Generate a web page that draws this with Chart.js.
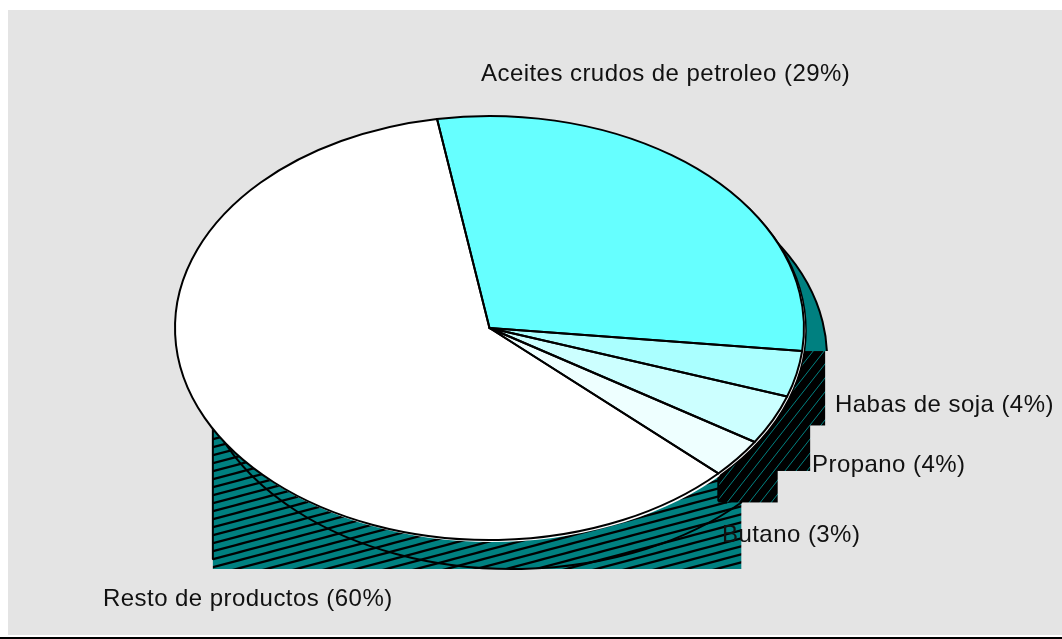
<!DOCTYPE html>
<html>

<head>
  <meta charset="utf-8">
  <script src="https://cdn.jsdelivr.net/npm/chart.js"></script>
  <style>
    body { margin: 0; background: #fff; }
    canvas { display: block; }
  </style>
</head>

<body>
  <canvas id="pieChart" width="1062" height="639"></canvas>

  <script>
    const categories = ["Aceites crudos de petroleo", "Habas de soja", "Propano", "Butano", "Resto de productos"];
    const shares = [29.4, 3.5, 3.8, 3.0, 60.3];
    const sliceColors = ["#66FFFF", "#AAFFFF", "#CCFFFF", "#EEFFFF", "#FFFFFF"];
    const labelAnchors = [[481, 81], [835, 412], [812, 472], [722, 542], [103, 606]];

    const radiusX = 314.5;
    const depth = { x: 23, y: 29 };
    // the side of the last slice is only drawn from this angle on
    const sideLimit = 151.6 * Math.PI / 180;

    function hatch(bg, fg, w, h, lineWidth) {
      const tile = document.createElement("canvas");
      tile.width = w;
      tile.height = h;
      const c = tile.getContext("2d");
      c.fillStyle = bg;
      c.fillRect(0, 0, w, h);
      c.strokeStyle = fg;
      c.lineWidth = lineWidth;
      [-h, 0, h].forEach(shift => {
        c.beginPath();
        c.moveTo(-w, h + shift + h);
        c.lineTo(2 * w, shift - h);
        c.stroke();
      });
      return c.createPattern(tile, "repeat");
    }

    function ellipsePoint(arc, angle, ox, oy) {
      return {
        x: arc.x + ox + radiusX * Math.cos(angle),
        y: arc.y + oy + arc.outerRadius * Math.sin(angle)
      };
    }

    function ellipsePath(ctx, arc, start, end, ox, oy) {
      ctx.ellipse(arc.x + ox, arc.y + oy, radiusX, arc.outerRadius, 0, start, end);
    }

    function sideBox(arc, start, end) {
      const pts = [
        ellipsePoint(arc, start, 0, 0), ellipsePoint(arc, end, 0, 0),
        ellipsePoint(arc, start, depth.x, depth.y), ellipsePoint(arc, end, depth.x, depth.y)
      ];
      if (start < Math.PI / 2 && end > Math.PI / 2) {
        pts.push(ellipsePoint(arc, Math.PI / 2, depth.x, depth.y));
      }
      const xs = pts.map(p => p.x);
      const ys = pts.map(p => p.y);
      const left = Math.min(...xs);
      const top = Math.min(...ys);
      return { left: left, top: top, w: Math.max(...xs) - left, h: Math.max(...ys) - top };
    }

    const pieSides = {
      id: "pieSides",
      beforeDatasetsDraw(chart) {
        const ctx = chart.ctx;
        const arcs = chart.getDatasetMeta(0).data;
        const last = arcs.length - 1;
        const lightHatch = hatch("#008080", "#000000", 30, 8, 2.2);
        const darkHatch = hatch("#000000", "#008080", 11, 14, 1);

        ctx.save();
        ctx.lineCap = "round";
        ctx.lineJoin = "round";

        // big slice first, the others lie on top of it
        const b = sideBox(arcs[last], arcs[last].startAngle, sideLimit);
        ctx.fillStyle = lightHatch;
        ctx.fillRect(b.left, b.top, b.w, b.h);
        ctx.strokeStyle = "#000";
        ctx.lineWidth = 2;
        ctx.beginPath();
        ctx.moveTo(b.left, b.top);
        ctx.lineTo(b.left, b.top + b.h - 10);
        ctx.stroke();
        ctx.beginPath();
        ellipsePath(ctx, arcs[last], arcs[last].startAngle, sideLimit + 0.12, depth.x, depth.y);
        ctx.stroke();

        // first slice, plain teal
        const first = arcs[0];
        const cut = ellipsePoint(first, first.endAngle, 0, 0);
        ctx.save();
        ctx.beginPath();
        ctx.rect(0, 0, chart.width, cut.y);
        ctx.clip();
        ctx.beginPath();
        ellipsePath(ctx, first, first.startAngle, first.endAngle, depth.x, depth.y);
        ctx.lineTo(cut.x, cut.y);
        ctx.closePath();
        ctx.fillStyle = "#008080";
        ctx.fill();
        ctx.beginPath();
        ellipsePath(ctx, first, first.startAngle, first.endAngle, depth.x, depth.y);
        ctx.stroke();
        ctx.restore();

        // small slices
        for (let i = 1; i < last; i++) {
          const r = sideBox(arcs[i], arcs[i].startAngle, arcs[i].endAngle);
          ctx.fillStyle = darkHatch;
          ctx.fillRect(r.left, r.top, r.w, r.h);
        }
        const p = ellipsePoint(arcs[last - 1], arcs[last - 1].endAngle, 0, 0);
        ctx.beginPath();
        ctx.moveTo(p.x, p.y);
        ctx.lineTo(p.x, p.y + depth.y - 2);
        ctx.lineTo(p.x + 8, p.y + depth.y);
        ctx.stroke();

        // thin white rim just under the top face
        ctx.beginPath();
        ellipsePath(ctx, first, 0, Math.PI * 2, 2, 2);
        ctx.fillStyle = "#fff";
        ctx.fill();
        ctx.beginPath();
        ellipsePath(ctx, first, first.startAngle + 0.5, arcs[3].endAngle, 2, 2);
        ctx.lineWidth = 1.5;
        ctx.stroke();

        ctx.restore();
      },
      // Chart.js only draws round pies, so squash it while the slices are drawn
      beforeDatasetDraw(chart, args) {
        const arc = args.meta.data[0];
        const ctx = chart.ctx;
        ctx.save();
        ctx.translate(arc.x, arc.y);
        ctx.scale(radiusX / arc.outerRadius, 1);
        ctx.translate(-arc.x, -arc.y);
      },
      afterDatasetDraw(chart) {
        chart.ctx.restore();
      },
      afterDatasetsDraw(chart) {
        const ctx = chart.ctx;
        const arcs = chart.getDatasetMeta(0).data;
        ctx.save();
        ctx.strokeStyle = "#000";
        ctx.lineWidth = 2;
        ctx.lineJoin = "round";
        arcs.forEach(arc => {
          ctx.beginPath();
          ctx.moveTo(arc.x, arc.y);
          ellipsePath(ctx, arc, arc.startAngle, arc.endAngle, 0, 0);
          ctx.closePath();
          ctx.stroke();
        });

        ctx.fillStyle = "#111";
        ctx.font = "24px 'Liberation Sans'";
        ctx.letterSpacing = "0.45px";
        ctx.textBaseline = "alphabetic";
        categories.forEach((name, i) => {
          ctx.fillText(name + " (" + Math.round(shares[i]) + "%)", labelAnchors[i][0], labelAnchors[i][1]);
        });
        ctx.restore();
      }
    };

    const background = {
      id: "background",
      beforeDraw(chart) {
        const ctx = chart.ctx;
        ctx.fillStyle = "#E4E4E4";
        ctx.fillRect(8, 10, chart.width - 8, 625);
        ctx.fillStyle = "#000";
        ctx.fillRect(0, 637, chart.width, 2);
      }
    };

    new Chart(document.getElementById("pieChart").getContext("2d"), {
      type: "pie",
      data: {
        labels: categories,
        datasets: [{
          data: shares,
          backgroundColor: sliceColors,
          borderWidth: 0,
          clip: false
        }]
      },
      options: {
        responsive: false,
        animation: false,
        rotation: -9.6,
        layout: { padding: { left: 175, right: 258, top: 116, bottom: 99 } },
        plugins: {
          legend: { display: false },
          tooltip: { enabled: false },
          title: { display: false }
        }
      },
      plugins: [background, pieSides]
    });
  </script>
</body>

</html>
